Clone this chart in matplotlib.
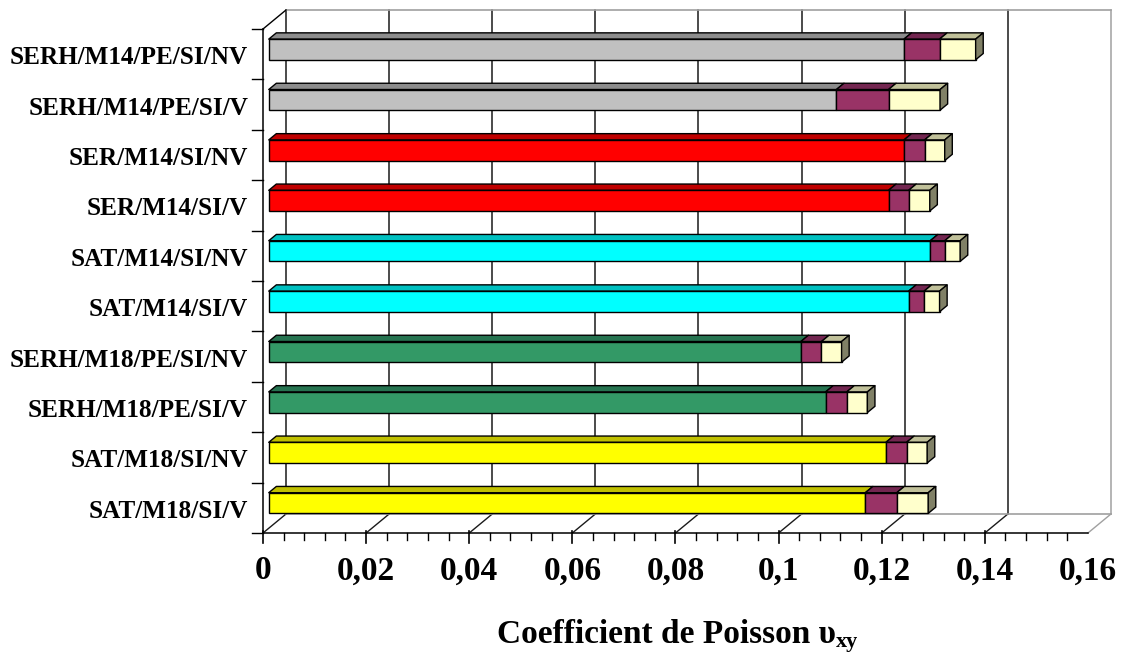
import matplotlib
matplotlib.use("Agg")
import matplotlib.pyplot as plt
from matplotlib.patches import Polygon
import numpy as np

# Specimens, listed bottom to top as they appear on the chart
categories = [
    "SAT/M18/SI/V",
    "SAT/M18/SI/NV",
    "SERH/M18/PE/SI/V",
    "SERH/M18/PE/SI/NV",
    "SAT/M14/SI/V",
    "SAT/M14/SI/NV",
    "SER/M14/SI/V",
    "SER/M14/SI/NV",
    "SERH/M14/PE/SI/V",
    "SERH/M14/PE/SI/NV",
]

# Poisson ratio: base value and the two stacked increments
base_values = [0.1157, 0.1197, 0.1080, 0.1032, 0.1241,
               0.1283, 0.1202, 0.1232, 0.1101, 0.1232]
upper_a = [0.0061, 0.0040, 0.0041, 0.0040, 0.0030,
           0.0028, 0.0039, 0.0040, 0.0101, 0.0069]
upper_b = [0.0061, 0.0040, 0.0040, 0.0039, 0.0030,
           0.0030, 0.0041, 0.0039, 0.0100, 0.0070]

x_ticks = [0, 0.02, 0.04, 0.06, 0.08, 0.10, 0.12, 0.14, 0.16]
x_tick_labels = ["0", "0,02", "0,04", "0,06", "0,08", "0,1", "0,12", "0,14", "0,16"]

# face colour / top colour per base series
base_front = ["#FFFF00", "#FFFF00", "#339966", "#339966", "#00FFFF",
              "#00FFFF", "#FF0000", "#FF0000", "#C0C0C0", "#C0C0C0"]
base_top = ["#C0C000", "#C0C000", "#267350", "#267350", "#00C0C0",
            "#00C0C0", "#C00000", "#C00000", "#8C8C8C", "#8C8C8C"]
seg_a_front, seg_a_top = "#993366", "#732650"
seg_b_front, seg_b_top, seg_b_side = "#FFFFCC", "#C0C099", "#808066"

FONT = "Liberation Serif"

# ---- figure & projection --------------------------------------------------
W, H = 1125, 657
fig = plt.figure(figsize=(W / 100, H / 100), dpi=100)
ax = fig.add_axes([0, 0, 1, 1])
px_per_unit = 5156.0      # horizontal scale along the value axis
px_per_cat = 50.4         # vertical spacing of categories
x0_px, y0_px = 263.0, 533.0
ax.set_xlim(-x0_px / px_per_unit, (W - x0_px) / px_per_unit)
ax.set_ylim((y0_px - H) / px_per_cat, y0_px / px_per_cat)
ax.axis("off")

DX = 23.0 / px_per_unit   # depth offset of the back wall (value units)
DY = 19.0 / px_per_cat    # depth offset of the back wall (category units)
n = len(categories)
xmax = 0.16


def P(v, c, t):
    """Project a point (value, category, depth fraction) onto the axes."""
    return (v + DX * t, c + DY * t)


grid_dark = "#1a1a1a"
frame_gray = "#a0a0a0"

# back wall gridlines and floor diagonals
for v in x_ticks:
    col = frame_gray if v >= xmax else grid_dark
    xa, ya = P(v, 0, 1)
    xb, yb = P(v, n, 1)
    ax.plot([xa, xb], [ya, yb], color=col, lw=1.1, zorder=1)
    xf, yf = P(v, 0, 0)
    ax.plot([xf, xa], [yf, ya], color=col, lw=1.0, zorder=1)

# back wall top and bottom edges
for c in (0, n):
    xa, ya = P(0, c, 1)
    xb, yb = P(xmax, c, 1)
    ax.plot([xa, xb], [ya, yb], color=frame_gray, lw=1.2, zorder=1)

# left wall: front vertical axis and top diagonal
ax.plot([0, 0], [0, n], color="black", lw=1.1, zorder=2)
xa, ya = P(0, n, 1)
ax.plot([0, xa], [n, ya], color="black", lw=1.0, zorder=2)
tick_len_y = 11.0 / px_per_unit
for c in range(n + 1):
    ax.plot([-tick_len_y, 0], [c, c], color="black", lw=1.0, zorder=2)

# front value axis with major and minor ticks
ax.plot([0, xmax], [0, 0], color="black", lw=1.1, zorder=2)
major_up, major_dn = 2.0 / px_per_cat, 10.0 / px_per_cat
minor_dn = 7.0 / px_per_cat
for v in x_ticks[:-1]:
    ax.plot([v, v], [major_up, -major_dn], color="black", lw=1.2, zorder=2)
for v in np.arange(0, xmax - 1e-9, 0.004):
    if abs(v / 0.02 - round(v / 0.02)) > 1e-6:
        ax.plot([v, v], [0, -minor_dn], color="black", lw=1.0, zorder=2)

for v, lab in zip(x_ticks, x_tick_labels):
    ax.text(v, -46.3 / px_per_cat, lab, ha="center", va="baseline",
            fontsize=24, fontweight="bold", family=FONT)

# ---- 3D stacked bars ----------------------------------------------------
t1, t2 = 0.25, 0.58          # depth of bar front face and back face
half_h = 0.205               # half the bar thickness in category units


def draw_segment(left, width, c, front, top, z):
    yb = c - half_h + DY * t1
    right = left + width
    top_poly = [P(left, c + half_h, t1), P(right, c + half_h, t1),
                P(right, c + half_h, t2), P(left, c + half_h, t2)]
    ax.add_patch(Polygon(top_poly, closed=True, facecolor=top,
                         edgecolor="black", lw=1.0, zorder=z,
                         joinstyle="round"))
    ax.barh(yb + half_h, width, height=2 * half_h, left=left + DX * t1,
            color=front, edgecolor="black", lw=1.0, zorder=z + 0.1)


for i in range(n):
    c = i + 0.5
    z = 5
    b, a, e = base_values[i], upper_a[i], upper_b[i]
    draw_segment(0, b, c, base_front[i], base_top[i], z)
    draw_segment(b, a, c, seg_a_front, seg_a_top, z)
    draw_segment(b + a, e, c, seg_b_front, seg_b_top, z)
    end = b + a + e
    side = [P(end, c - half_h, t1), P(end, c + half_h, t1),
            P(end, c + half_h, t2), P(end, c - half_h, t2)]
    ax.add_patch(Polygon(side, closed=True, facecolor=seg_b_side,
                         edgecolor="black", lw=1.0, zorder=z + 0.2))

# category labels
for i, lab in enumerate(categories):
    ax.text(-15.0 / px_per_unit, i + 0.5 - 10.0 / px_per_cat, lab,
            ha="right", va="baseline", fontsize=18.2, fontweight="bold",
            family=FONT)

# axis title with subscript
title = ax.text(0.0782, -110.0 / px_per_cat, "Coefficient de Poisson \u03c5",
                ha="center", va="baseline", fontsize=24, fontweight="bold",
                family=FONT)
ax.annotate("xy", xy=(1, 0), xycoords=title, xytext=(0.5, 2.2),
            textcoords="offset points", ha="left", va="baseline",
            fontsize=16, fontweight="bold", family=FONT)

fig.savefig("out.png", dpi=100)
